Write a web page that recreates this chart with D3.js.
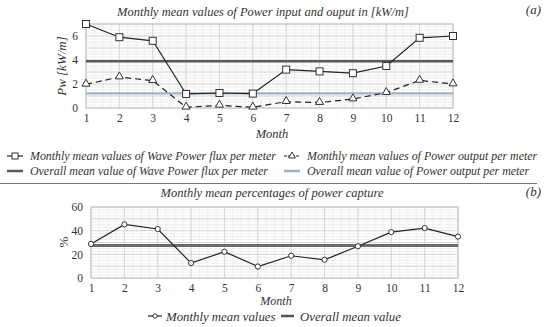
<!DOCTYPE html>
<html>
<head>
<meta charset="utf-8">
<script src="https://cdn.jsdelivr.net/npm/d3@7"></script>
<style>
  body { margin: 0; background: #fff; }
  svg text { font-family: "Liberation Serif", "DejaVu Serif", serif !important; fill: #333; }
  .it { font-style: italic; }
</style>
</head>
<body>
<div id="chart"></div>
<script>
// data
var months = [1, 2, 3, 4, 5, 6, 7, 8, 9, 10, 11, 12];
var waveFlux = [7.0, 5.9, 5.6, 1.17, 1.25, 1.2, 3.2, 3.05, 2.9, 3.5, 5.85, 6.0];
var powerOut = [1.97, 2.58, 2.28, 0.06, 0.22, 0.06, 0.53, 0.45, 0.75, 1.28, 2.3, 2.0];
var waveMean = 3.9;
var outMean = 1.22;
var capture = [28.8, 45.3, 41.4, 12.6, 22.2, 9.7, 18.8, 15.4, 26.8, 38.8, 42.2, 35.0];
var captureMean = 27.4;
var topTicks = [0, 2, 4, 6];
var botTicks = [0, 20, 40, 60];

var svg = d3.select("#chart").append("svg")
  .attr("width", 550).attr("height", 327);

// ---------- panel (a) ----------
var xa = d3.scaleLinear().domain([1, 12]).range([86, 453]);
var ya = d3.scaleLinear().domain([0, 7]).range([108, 24]);

function grid(g, x, y, xMinor, yMinor, yMajor) {
  // minor grid
  g.append("g").selectAll("line").data(xMinor).enter().append("line")
    .attr("x1", d => x(d)).attr("x2", d => x(d))
    .attr("y1", y.range()[0]).attr("y2", y.range()[1])
    .attr("stroke", "#eeeeee").attr("stroke-width", 1);
  g.append("g").selectAll("line").data(yMinor).enter().append("line")
    .attr("x1", x.range()[0]).attr("x2", x.range()[1])
    .attr("y1", d => y(d)).attr("y2", d => y(d))
    .attr("stroke", "#eeeeee").attr("stroke-width", 1);
  // major grid
  g.append("g").selectAll("line").data(months).enter().append("line")
    .attr("x1", d => x(d)).attr("x2", d => x(d))
    .attr("y1", y.range()[0]).attr("y2", y.range()[1])
    .attr("stroke", "#d6d6d6").attr("stroke-width", 1);
  g.append("g").selectAll("line").data(yMajor).enter().append("line")
    .attr("x1", x.range()[0]).attr("x2", x.range()[1])
    .attr("y1", d => y(d)).attr("y2", d => y(d))
    .attr("stroke", "#d6d6d6").attr("stroke-width", 1);
  g.append("rect")
    .attr("x", x.range()[0]).attr("y", y.range()[1])
    .attr("width", x.range()[1] - x.range()[0])
    .attr("height", y.range()[0] - y.range()[1])
    .attr("fill", "none").attr("stroke", "#c4c4c4");
}

function styleTicks(sel) {
  sel.attr("font-family", null);
  sel.select(".domain").remove();
  sel.selectAll("text").attr("font-size", 11.5).attr("fill", "#444");
}

var ga = svg.append("g");
grid(ga, xa, ya, d3.range(1, 12.01, 0.25), d3.range(0, 7.01, 0.25), d3.range(0, 7.01, 1));

var axA = d3.axisBottom(xa).tickValues(months).tickSize(0).tickPadding(6);
ga.append("g").attr("transform", "translate(0,108)").call(axA).call(styleTicks);
var ayA = d3.axisLeft(ya).tickValues(topTicks).tickFormat(d3.format("d")).tickSize(0).tickPadding(8);
ga.append("g").attr("transform", "translate(86,0)").call(ayA).call(styleTicks);

// mean lines
ga.append("line").attr("x1", xa(1)).attr("x2", xa(12))
  .attr("y1", ya(waveMean)).attr("y2", ya(waveMean))
  .attr("stroke", "#595959").attr("stroke-width", 2.5);
ga.append("line").attr("x1", xa(1)).attr("x2", xa(12))
  .attr("y1", ya(outMean)).attr("y2", ya(outMean))
  .attr("stroke", "#9db3c8").attr("stroke-width", 2.2);

var lineA = d3.line().x((d, i) => xa(months[i])).y(d => ya(d));
ga.append("path").datum(waveFlux).attr("d", lineA)
  .attr("fill", "none").attr("stroke", "#222").attr("stroke-width", 1.2);
ga.append("path").datum(powerOut).attr("d", lineA)
  .attr("fill", "none").attr("stroke", "#222").attr("stroke-width", 1.2)
  .attr("stroke-dasharray", "6,4");

ga.selectAll(".sq").data(waveFlux).enter().append("rect")
  .attr("x", (d, i) => xa(months[i]) - 3.5).attr("y", d => ya(d) - 3.5)
  .attr("width", 7).attr("height", 7)
  .attr("fill", "#fff").attr("stroke", "#333").attr("stroke-width", 1);
var tri = d3.symbol().type(d3.symbolTriangle).size(28);
ga.selectAll(".tri").data(powerOut).enter().append("path")
  .attr("d", tri)
  .attr("transform", (d, i) => "translate(" + xa(months[i]) + "," + (ya(d) - 0.5) + ")")
  .attr("fill", "#fff").attr("stroke", "#333").attr("stroke-width", 1);

// titles
svg.append("text").attr("class", "it").attr("x", 263).attr("y", 16)
  .attr("text-anchor", "middle").attr("font-size", 12.5)
  .text("Monthly mean values of Power input and ouput in [kW/m]");
svg.append("text").attr("class", "it").attr("x", 541).attr("y", 14)
  .attr("text-anchor", "end").attr("font-size", 13).text("(a)");
svg.append("text").attr("class", "it").attr("font-size", 13)
  .attr("transform", "translate(66,66) rotate(-90)")
  .attr("text-anchor", "middle").text("Pw [kW/m]");
svg.append("text").attr("class", "it").attr("x", 272).attr("y", 138)
  .attr("text-anchor", "middle").attr("font-size", 12.5).text("Month");

// legend (a)
var legA = [
  {x: 7, y: 156, label: "Monthly mean values of Wave  Power flux per meter", kind: "sq"},
  {x: 284, y: 156, label: "Monthly mean values of Power output  per meter", kind: "tri"},
  {x: 7, y: 171, label: "Overall mean value of Wave Power flux per meter", kind: "dark"},
  {x: 284, y: 171, label: "Overall mean value of Power output per meter", kind: "blue"}
];
legA.forEach(function(l) {
  var g = svg.append("g");
  if (l.kind === "sq" || l.kind === "tri") {
    g.append("line").attr("x1", l.x).attr("x2", l.x + 16).attr("y1", l.y).attr("y2", l.y)
      .attr("stroke", "#222").attr("stroke-width", 1.2)
      .attr("stroke-dasharray", l.kind === "tri" ? "3,1" : null);
    if (l.kind === "sq") {
      g.append("rect").attr("x", l.x + 5).attr("y", l.y - 3).attr("width", 6).attr("height", 6)
        .attr("fill", "#fff").attr("stroke", "#333");
    } else {
      g.append("path").attr("d", d3.symbol().type(d3.symbolTriangle).size(20))
        .attr("transform", "translate(" + (l.x + 8) + "," + l.y + ")")
        .attr("fill", "#fff").attr("stroke", "#333");
    }
  } else {
    g.append("line").attr("x1", l.x).attr("x2", l.x + 16).attr("y1", l.y).attr("y2", l.y)
      .attr("stroke", l.kind === "dark" ? "#595959" : "#9db3c8").attr("stroke-width", 2.5);
  }
  g.append("text").attr("class", "it").attr("x", l.x + 23).attr("y", l.y + 4)
    .attr("font-size", 11.9).text(l.label);
});

svg.append("line").attr("x1", 0).attr("x2", 537).attr("y1", 183.5).attr("y2", 183.5)
  .attr("stroke", "#777").attr("stroke-width", 1);

// ---------- panel (b) ----------
var xb = d3.scaleLinear().domain([1, 12]).range([91, 458]);
var yb = d3.scaleLinear().domain([0, 60]).range([278, 207]);
var gb = svg.append("g");
grid(gb, xb, yb, d3.range(1, 12.01, 0.25), d3.range(0, 60.01, 2.5), d3.range(0, 60.01, 10));

var axB = d3.axisBottom(xb).tickValues(months).tickSize(0).tickPadding(6);
gb.append("g").attr("transform", "translate(0,278)").call(axB).call(styleTicks);
var ayB = d3.axisLeft(yb).tickValues(botTicks).tickFormat(d3.format("d")).tickSize(0).tickPadding(8);
gb.append("g").attr("transform", "translate(91,0)").call(ayB).call(styleTicks);

gb.append("line").attr("x1", xb(1)).attr("x2", xb(12))
  .attr("y1", yb(captureMean)).attr("y2", yb(captureMean))
  .attr("stroke", "#6b6b6b").attr("stroke-width", 3);
var lineB = d3.line().x((d, i) => xb(months[i])).y(d => yb(d));
gb.append("path").datum(capture).attr("d", lineB)
  .attr("fill", "none").attr("stroke", "#222").attr("stroke-width", 1.2);
gb.selectAll(".ci").data(capture).enter().append("circle")
  .attr("cx", (d, i) => xb(months[i])).attr("cy", d => yb(d)).attr("r", 2.6)
  .attr("fill", "#fff").attr("stroke", "#333").attr("stroke-width", 1);

svg.append("text").attr("class", "it").attr("x", 272).attr("y", 197)
  .attr("text-anchor", "middle").attr("font-size", 12.5)
  .text("Monthly mean percentages of power capture");
svg.append("text").attr("class", "it").attr("x", 541).attr("y", 196)
  .attr("text-anchor", "end").attr("font-size", 13).text("(b)");
svg.append("text").attr("font-size", 13)
  .attr("transform", "translate(68,242) rotate(-90)")
  .attr("text-anchor", "middle").text("%");
svg.append("text").attr("class", "it").attr("x", 276).attr("y", 305)
  .attr("text-anchor", "middle").attr("font-size", 12).text("Month");

// legend (b)
var lb = svg.append("g");
lb.append("line").attr("x1", 148).attr("x2", 162).attr("y1", 316).attr("y2", 316)
  .attr("stroke", "#222").attr("stroke-width", 1.2);
lb.append("circle").attr("cx", 155).attr("cy", 316).attr("r", 2.2)
  .attr("fill", "#fff").attr("stroke", "#333");
lb.append("text").attr("class", "it").attr("x", 166).attr("y", 320.5)
  .attr("font-size", 12.8).text("Monthly mean values");
lb.append("line").attr("x1", 281).attr("x2", 294).attr("y1", 316).attr("y2", 316)
  .attr("stroke", "#555").attr("stroke-width", 2.5);
lb.append("text").attr("class", "it").attr("x", 300).attr("y", 320.5)
  .attr("font-size", 12.8).text("Overall mean value");
</script>
</body>
</html>
